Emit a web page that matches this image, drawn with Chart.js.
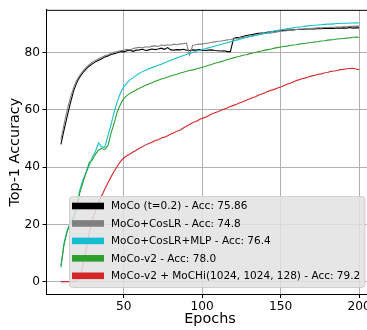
<!DOCTYPE html>
<html>
<head>
<meta charset="utf-8">
<script src="https://cdn.jsdelivr.net/npm/chart.js@4"></script>
<style>
  html, body { margin: 0; padding: 0; background: #fff; overflow: hidden; }
  #wrap { width: 367px; height: 330px; overflow: hidden; }
</style>
</head>
<body>
<div id="wrap"><canvas id="chart" width="380" height="330"></canvas></div>
<script>
/* ---- data ---- */
const epochs = [
  10, 12, 14, 16, 18, 20, 22, 24, 26, 28,
  30, 32, 34, 36, 38, 40, 42, 44, 46, 48,
  50, 52, 54, 56, 58, 60, 62, 64, 66, 68,
  70, 72, 74, 76, 78, 80, 82, 84, 86, 88,
  90, 92, 94, 96, 98, 100, 102, 104, 106, 108,
  110, 112, 114, 116, 118, 120, 122, 124, 126, 128,
  130, 132, 134, 136, 138, 140, 142, 144, 146, 148,
  150, 152, 154, 156, 158, 160, 162, 164, 166, 168,
  170, 172, 174, 176, 178, 180, 182, 184, 186, 188,
  190, 192, 194, 196, 198, 200
];

const mocoT02 = [
  48.0, 53.0, 57.8, 62.3, 66.5, 69.5, 71.5, 73.0, 74.3, 75.3,
  76.1, 76.8, 77.4, 77.9, 78.5, 78.9, 79.4, 79.7, 80.0, 80.4,
  80.3, 80.7, 80.9, 80.5, 80.9, 81.0, 81.2, 80.8, 81.0, 81.3,
  81.1, 81.3, 81.6, 81.2, 81.8, 81.0, 80.9, 81.1, 81.0, 81.2,
  80.9, 80.8, 81.0, 80.9, 81.1, 80.9, 80.8, 80.9, 81.0, 80.8,
  80.7, 80.6, 80.7, 80.4, 80.4, 85.0, 85.3, 85.4, 85.7, 86.0,
  86.2, 86.4, 86.6, 86.8, 86.9, 87.0, 87.2, 87.3, 87.5, 87.6,
  87.7, 87.8, 87.9, 87.9, 88.0, 88.1, 88.2, 88.1, 88.3, 88.3,
  88.4, 88.3, 88.5, 88.4, 88.6, 88.5, 88.6, 88.5, 88.7, 88.6,
  88.7, 88.6, 88.8, 88.6, 88.7, 88.7
];

const mocoCosLR = [
  49.6, 55.0, 60.0, 64.2, 67.6, 70.3, 72.1, 73.6, 74.8, 75.8,
  76.6, 77.3, 77.9, 78.4, 78.9, 79.3, 79.8, 80.2, 80.4, 80.7,
  80.9, 81.2, 81.0, 81.5, 81.7, 81.9, 81.7, 82.1, 81.9, 82.3,
  82.4, 82.2, 82.7, 82.5, 82.8, 82.6, 83.0, 82.8, 83.1, 83.2,
  83.4, 79.2, 82.6, 82.8, 83.0, 83.0, 83.2, 83.4, 83.6, 83.8,
  84.0, 84.1, 84.3, 84.5, 84.6, 84.8, 85.0, 85.1, 85.3, 85.5,
  85.7, 85.9, 86.1, 86.3, 86.5, 86.7, 86.8, 86.9, 87.1, 87.3,
  87.5, 87.6, 87.7, 87.9, 88.0, 88.1, 88.2, 88.3, 88.4, 88.4,
  88.5, 88.6, 88.7, 88.7, 88.8, 88.8, 88.9, 88.9, 89.0, 89.0,
  89.1, 89.1, 89.2, 89.2, 89.3, 89.2
];

const mocoCosLRMLP = [
  5.0, 13.5, 18.0, 20.5, 22.0, 26.5, 32.0, 35.5, 38.0, 40.5,
  43.5, 45.5, 48.5, 47.0, 47.0, 51.0, 55.0, 59.5, 63.0, 66.0,
  68.0, 69.4, 70.5, 71.3, 72.1, 72.8, 73.4, 73.9, 74.4, 74.8,
  75.2, 75.6, 76.0, 76.5, 76.9, 77.4, 77.8, 78.2, 78.6, 79.0,
  79.4, 79.8, 80.1, 80.5, 80.8, 81.1, 81.4, 81.7, 82.0, 82.3,
  82.6, 82.9, 83.2, 83.5, 83.8, 84.1, 84.4, 84.7, 85.0, 85.3,
  85.6, 85.8, 86.1, 86.3, 86.6, 86.8, 87.1, 87.3, 87.6, 87.8,
  88.0, 88.2, 88.4, 88.5, 88.7, 88.9, 89.0, 89.1, 89.3, 89.4,
  89.5, 89.6, 89.7, 89.8, 89.9, 90.0, 90.0, 90.1, 90.2, 90.2,
  90.3, 90.3, 90.4, 90.4, 90.5, 90.4
];

const mocoV2 = [
  5.4, 13.0, 17.5, 20.5, 22.5, 25.5, 31.0, 34.5, 38.0, 41.5,
  42.5, 44.5, 46.0, 46.5, 46.2, 47.5, 52.0, 55.5, 59.5, 62.0,
  64.0, 65.0, 65.8, 66.4, 67.0, 67.6, 68.1, 68.6, 69.1, 69.5,
  70.0, 70.4, 70.8, 71.1, 71.5, 71.9, 72.2, 72.5, 72.9, 73.2,
  73.5, 73.8, 74.0, 74.3, 74.6, 74.9, 75.2, 75.6, 75.9, 76.3,
  76.6, 76.9, 77.2, 77.6, 77.9, 78.2, 78.5, 78.8, 79.1, 79.3,
  79.6, 79.9, 80.1, 80.4, 80.6, 80.9, 81.1, 81.3, 81.6, 81.8,
  82.0, 82.2, 82.3, 82.5, 82.7, 82.8, 83.0, 83.2, 83.3, 83.5,
  83.6, 83.8, 83.9, 84.1, 84.2, 84.4, 84.5, 84.6, 84.8, 84.9,
  85.0, 85.1, 85.2, 85.4, 85.5, 85.4
];

const mocoV2Mochi = [
  0.0, 0.0, 0.0, 0.0, 0.0, 0.2, 1.5, 5.5, 11.0, 17.0,
  21.5, 24.8, 27.6, 30.0, 32.4, 34.6, 36.7, 38.6, 40.4, 42.0,
  43.2, 44.0, 44.6, 45.3, 45.9, 46.6, 47.1, 47.8, 48.3, 48.7,
  49.3, 49.6, 50.2, 50.5, 51.0, 51.6, 52.0, 52.6, 53.0, 53.7,
  54.3, 54.9, 55.6, 56.0, 56.6, 57.1, 57.4, 58.0, 58.6, 59.0,
  59.4, 59.9, 60.3, 60.7, 61.2, 61.6, 62.0, 62.5, 62.9, 63.4,
  63.8, 64.3, 64.6, 65.2, 65.6, 66.0, 66.5, 66.9, 67.2, 67.7,
  68.0, 68.5, 69.0, 69.3, 69.8, 70.3, 70.6, 71.0, 71.2, 71.6,
  71.9, 72.1, 72.5, 72.6, 73.0, 73.1, 73.5, 73.6, 73.8, 74.1,
  74.2, 74.4, 74.5, 74.6, 74.3, 74.1
];

const seriesLabels = [
  'MoCo (t=0.2) - Acc: 75.86',
  'MoCo+CosLR - Acc: 74.8',
  'MoCo+CosLR+MLP - Acc: 76.4',
  'MoCo-v2 - Acc: 78.0',
  'MoCo-v2 + MoCHi(1024, 1024, 128) - Acc: 79.2'
];
const seriesColors = ['#000000', '#808080', '#17becf', '#2ca02c', '#d62728'];
const seriesValues = [mocoT02, mocoCosLR, mocoCosLRMLP, mocoV2, mocoV2Mochi];

const xTicks = [50, 100, 150, 200];
const yTicks = [0, 20, 40, 60, 80];

/* ---- helpers ---- */
const FONT = '"DejaVu Sans", Verdana, sans-serif';
const toPoints = values => epochs.map((e, i) => ({ x: e, y: values[i] }));

/* top spine (matplotlib draws a full box) */
const frame = {
  id: 'frame',
  afterDatasetsDraw(chart) {
    const { ctx, chartArea: a } = chart;
    ctx.save();
    ctx.strokeStyle = '#000';
    ctx.lineWidth = 1;
    ctx.beginPath();
    ctx.moveTo(a.left, a.top + 0.5);
    ctx.lineTo(a.right, a.top + 0.5);
    ctx.moveTo(a.right - 0.5, a.top);
    ctx.lineTo(a.right - 0.5, a.bottom);
    ctx.stroke();
    ctx.restore();
  }
};

/* matplotlib style legend box, lower right */
const mplLegend = {
  id: 'mplLegend',
  afterDraw(chart) {
    const { ctx } = chart;
    const box = { x: 69.5, y: 196.5, w: 295.5, h: 91, r: 3 };
    ctx.save();
    ctx.beginPath();
    ctx.roundRect(box.x, box.y, box.w, box.h, box.r);
    ctx.fillStyle = 'rgba(226,226,226,0.85)';
    ctx.fill();
    ctx.strokeStyle = 'rgba(205,205,205,0.9)';
    ctx.lineWidth = 1;
    ctx.stroke();

    ctx.font = '10.5px ' + FONT;
    ctx.textBaseline = 'middle';
    ctx.textAlign = 'left';
    seriesLabels.forEach((label, i) => {
      const cy = 206 + i * 17.45;
      ctx.fillStyle = seriesColors[i];
      ctx.fillRect(72, cy - 3.3, 32, 6.6);
      ctx.fillStyle = '#000';
      ctx.fillText(label, 111, cy + 0.5);
    });
    ctx.restore();
  }
};

/* ---- chart ---- */
new Chart(document.getElementById('chart'), {
  type: 'line',
  data: {
    datasets: seriesValues.map((vals, i) => ({
      label: seriesLabels[i],
      data: toPoints(vals),
      borderColor: seriesColors[i],
      backgroundColor: seriesColors[i],
      borderWidth: 1.1,
      pointRadius: 0,
      tension: 0,
      fill: false,
      order: seriesValues.length - i
    }))
  },
  options: {
    responsive: false,
    animation: false,
    devicePixelRatio: 1,
    layout: { padding: { top: 3.5, right: 6, left: 0, bottom: 0 } },
    plugins: {
      legend: { display: false },
      tooltip: { enabled: false }
    },
    scales: {
      x: {
        type: 'linear',
        min: 0.5,
        max: 209.5,
        afterBuildTicks: s => { s.ticks = xTicks.map(v => ({ value: v })); },
        afterFit: s => { s.height = 35.5; },
        ticks: {
          color: '#000',
          font: { family: FONT, size: 12.2 },
          padding: 1.5,
          maxRotation: 0,
          autoSkip: false
        },
        grid: { color: '#b0b0b0', lineWidth: 1, tickColor: '#000', tickLength: 3.5 },
        border: { color: '#000', width: 1 },
        title: {
          display: true,
          text: 'Epochs',
          color: '#000',
          font: { family: FONT, size: 14.4 },
          padding: { top: 0, bottom: 2 }
        }
      },
      y: {
        min: -4.5,
        max: 95,
        afterBuildTicks: s => { s.ticks = yTicks.map(v => ({ value: v })); },
        afterFit: s => { s.width = 46; },
        ticks: {
          color: '#000',
          font: { family: FONT, size: 12.2 },
          padding: 2.5
        },
        grid: { color: '#b0b0b0', lineWidth: 1, tickColor: '#000', tickLength: 3.5 },
        border: { color: '#000', width: 1 },
        title: {
          display: true,
          text: 'Top-1 Accuracy',
          color: '#000',
          font: { family: FONT, size: 14.4 },
          padding: { top: 7, bottom: 0 }
        }
      }
    }
  },
  plugins: [frame, mplLegend]
});
</script>
</body>
</html>
